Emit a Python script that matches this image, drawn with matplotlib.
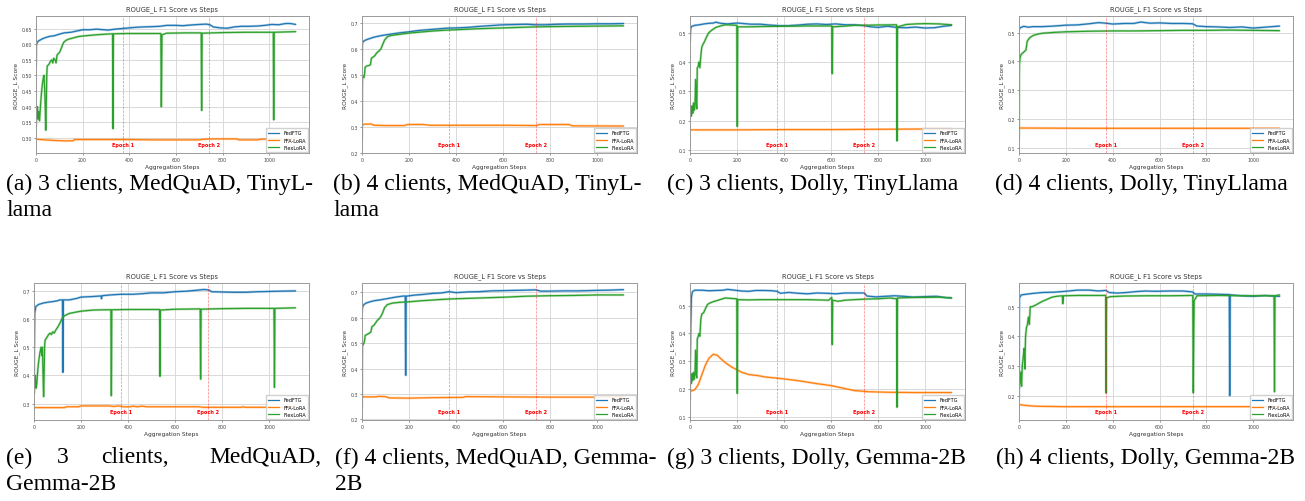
import numpy as np
import matplotlib
matplotlib.use("Agg")
import matplotlib.pyplot as plt
import matplotlib.transforms as mtransforms

# figure size in pixels
W, H = 1305, 502

# epoch boundaries (aggregation steps)
EPOCH_STEPS = [371, 742]
SERIES_NAMES = ["FedFTG", "FFA-LoRA", "FlexLoRA"]
SERIES_COLORS = ["#1f77b4", "#ff7f0e", "#2ca02c"]

# ---- (a) 3 clients, MedQuAD, TinyLlama ----
A_FEDFTG = [(0, 0.53), (2, 0.60), (5, 0.605), (10, 0.61), (20, 0.614), (30, 0.618), (45, 0.622),
            (60, 0.625), (80, 0.627), (100, 0.632), (120, 0.636), (150, 0.638), (175, 0.642),
            (200, 0.646), (230, 0.646), (260, 0.648), (290, 0.646), (310, 0.645), (340, 0.648),
            (370, 0.650), (400, 0.652), (430, 0.654), (460, 0.655), (500, 0.656), (530, 0.657),
            (560, 0.660), (600, 0.660), (630, 0.659), (660, 0.661), (700, 0.663), (730, 0.664),
            (745, 0.662), (760, 0.655), (790, 0.652), (820, 0.651), (850, 0.655), (880, 0.657),
            (910, 0.657), (950, 0.658), (980, 0.660), (1010, 0.663), (1040, 0.662), (1070, 0.666),
            (1090, 0.666), (1113, 0.663)]
A_FFA = [(0, 0.296), (40, 0.294), (80, 0.292), (120, 0.291), (158, 0.291), (165, 0.295), (300, 0.295),
         (400, 0.295), (500, 0.294), (600, 0.294), (700, 0.294), (720, 0.296), (760, 0.297),
         (860, 0.297), (870, 0.294), (950, 0.294), (965, 0.296), (1113, 0.297)]
A_FLEX = [(0, 0.335), (3, 0.37), (6, 0.40), (9, 0.36), (12, 0.385), (15, 0.355), (19, 0.40), (23, 0.44),
          (27, 0.47), (31, 0.49), (34, 0.50), (37, 0.46), (40, 0.39), (42, 0.325), (44, 0.40), (46, 0.50),
          (48, 0.53), (55, 0.535), (62, 0.545), (68, 0.55), (72, 0.54), (76, 0.555), (82, 0.55),
          (86, 0.54), (90, 0.565), (96, 0.57), (102, 0.575), (110, 0.59), (118, 0.605), (128, 0.612),
          (140, 0.616), (160, 0.62), (180, 0.624), (200, 0.626), (230, 0.628), (260, 0.63),
          (300, 0.632), (328, 0.633), (330, 0.33), (332, 0.633), (380, 0.634), (450, 0.634),
          (535, 0.634), (537, 0.40), (540, 0.63), (560, 0.635), (640, 0.636), (708, 0.636),
          (710, 0.388), (712, 0.635), (800, 0.637), (900, 0.638), (1017, 0.638), (1019, 0.358),
          (1021, 0.638), (1113, 0.64)]

# ---- (b) 4 clients, MedQuAD, TinyLlama ----
B_FEDFTG = [(0, 0.55), (2, 0.625), (6, 0.63), (15, 0.635), (30, 0.64), (50, 0.646), (75, 0.651),
            (100, 0.655), (130, 0.659), (160, 0.663), (200, 0.667), (240, 0.672), (280, 0.675),
            (320, 0.678), (360, 0.681), (400, 0.682), (450, 0.684), (500, 0.688), (550, 0.691),
            (600, 0.694), (650, 0.695), (700, 0.696), (740, 0.694), (780, 0.694), (830, 0.696),
            (880, 0.697), (940, 0.697), (1000, 0.698), (1060, 0.698), (1113, 0.699)]
B_FFA = [(0, 0.308), (10, 0.31), (40, 0.311), (50, 0.306), (100, 0.305), (180, 0.305), (195, 0.309),
         (260, 0.309), (290, 0.306), (400, 0.306), (600, 0.306), (740, 0.305), (755, 0.309),
         (880, 0.309), (895, 0.304), (1113, 0.303)]
B_FLEX = [(0, 0.245), (2, 0.49), (5, 0.495), (8, 0.49), (11, 0.505), (13, 0.53), (20, 0.535),
          (30, 0.537), (36, 0.54), (40, 0.565), (48, 0.57), (55, 0.575), (62, 0.585), (72, 0.593),
          (80, 0.60), (88, 0.618), (96, 0.635), (108, 0.648), (125, 0.653), (150, 0.656),
          (200, 0.662), (250, 0.666), (300, 0.670), (350, 0.673), (400, 0.675), (450, 0.677),
          (500, 0.679), (600, 0.682), (700, 0.685), (800, 0.687), (900, 0.688), (1000, 0.689),
          (1113, 0.69)]

# ---- (c) 3 clients, Dolly, TinyLlama ----
C_FEDFTG = [(0, 0.47), (3, 0.515), (8, 0.522), (20, 0.525), (40, 0.527), (60, 0.53), (80, 0.532),
            (100, 0.533), (110, 0.536), (130, 0.532), (160, 0.530), (200, 0.533), (230, 0.531),
            (260, 0.529), (300, 0.529), (340, 0.526), (380, 0.524), (420, 0.524), (460, 0.526),
            (500, 0.529), (540, 0.530), (580, 0.528), (620, 0.530), (660, 0.527), (700, 0.527),
            (740, 0.524), (770, 0.52), (800, 0.518), (840, 0.522), (880, 0.518), (920, 0.517),
            (960, 0.519), (1000, 0.516), (1040, 0.517), (1080, 0.522), (1113, 0.525)]
C_FFA = [(0, 0.168), (200, 0.168), (400, 0.169), (600, 0.169), (800, 0.17), (1000, 0.171), (1113, 0.171)]
C_FLEX = [(0, 0.22), (3, 0.24), (6, 0.215), (9, 0.25), (12, 0.225), (15, 0.26), (18, 0.235), (21, 0.245),
          (24, 0.34), (27, 0.26), (29, 0.24), (31, 0.38), (35, 0.385), (38, 0.40), (42, 0.38),
          (46, 0.42), (50, 0.45), (55, 0.46), (62, 0.47), (70, 0.485), (80, 0.50), (95, 0.51),
          (110, 0.518), (130, 0.523), (150, 0.527), (180, 0.526), (199, 0.525), (201, 0.18),
          (203, 0.52), (250, 0.52), (300, 0.521), (400, 0.522), (500, 0.523), (603, 0.523),
          (605, 0.36), (607, 0.52), (650, 0.522), (700, 0.525), (780, 0.526), (879, 0.527),
          (881, 0.13), (883, 0.52), (920, 0.528), (960, 0.53), (1000, 0.531), (1060, 0.53),
          (1113, 0.527)]

# ---- (d) 4 clients, Dolly, TinyLlama ----
D_FEDFTG = [(0, 0.51), (5, 0.517), (20, 0.522), (40, 0.519), (60, 0.521), (100, 0.521), (150, 0.523),
            (200, 0.526), (250, 0.527), (300, 0.531), (340, 0.535), (370, 0.533), (400, 0.530),
            (450, 0.532), (490, 0.532), (520, 0.537), (560, 0.533), (600, 0.534), (650, 0.532),
            (700, 0.532), (740, 0.531), (760, 0.523), (800, 0.521), (850, 0.52), (900, 0.518),
            (950, 0.52), (1000, 0.516), (1050, 0.519), (1113, 0.523)]
D_FFA = [(0, 0.168), (300, 0.167), (600, 0.167), (900, 0.167), (1113, 0.167)]
D_FLEX = [(0, 0.125), (2, 0.39), (5, 0.415), (10, 0.425), (20, 0.432), (30, 0.44), (35, 0.47),
          (45, 0.482), (60, 0.49), (80, 0.495), (100, 0.498), (150, 0.501), (200, 0.503),
          (300, 0.505), (400, 0.506), (500, 0.506), (600, 0.507), (700, 0.508), (800, 0.508),
          (900, 0.509), (1000, 0.508), (1113, 0.507)]

# ---- (e) 3 clients, MedQuAD, Gemma-2B ----
E_FEDFTG = [(0, 0.335), (3, 0.62), (8, 0.645), (20, 0.652), (40, 0.657), (60, 0.66), (80, 0.662),
            (100, 0.665), (110, 0.668), (121, 0.668), (123, 0.411), (125, 0.668), (150, 0.668),
            (180, 0.673), (200, 0.678), (250, 0.68), (285, 0.682), (287, 0.672), (290, 0.683),
            (330, 0.686), (370, 0.688), (420, 0.688), (460, 0.69), (500, 0.693), (550, 0.693),
            (600, 0.697), (650, 0.699), (700, 0.703), (725, 0.705), (745, 0.703), (755, 0.697),
            (800, 0.696), (850, 0.695), (900, 0.695), (950, 0.697), (1000, 0.698), (1050, 0.699),
            (1113, 0.7)]
E_FFA = [(0, 0.286), (130, 0.286), (140, 0.289), (190, 0.289), (200, 0.292), (320, 0.292), (340, 0.29),
         (360, 0.292), (380, 0.289), (410, 0.289), (420, 0.291), (440, 0.289), (460, 0.291),
         (480, 0.289), (700, 0.289), (720, 0.287), (880, 0.287), (890, 0.289), (900, 0.287),
         (1113, 0.287)]
E_FLEX = [(0, 0.335), (3, 0.36), (6, 0.40), (9, 0.355), (12, 0.37), (16, 0.42), (20, 0.45), (25, 0.48),
          (30, 0.50), (33, 0.47), (36, 0.50), (38, 0.42), (41, 0.325), (43, 0.40), (45, 0.50),
          (47, 0.525), (55, 0.535), (62, 0.545), (68, 0.55), (74, 0.545), (80, 0.555), (86, 0.55),
          (92, 0.56), (100, 0.57), (110, 0.585), (120, 0.603), (130, 0.612), (150, 0.62),
          (180, 0.625), (200, 0.628), (250, 0.632), (300, 0.633), (327, 0.633), (329, 0.328),
          (331, 0.633), (400, 0.634), (534, 0.634), (536, 0.397), (538, 0.632), (600, 0.635),
          (707, 0.636), (709, 0.387), (711, 0.635), (800, 0.637), (900, 0.638), (1021, 0.638),
          (1023, 0.358), (1025, 0.638), (1113, 0.64)]

# ---- (f) 4 clients, MedQuAD, Gemma-2B ----
F_FEDFTG = [(0, 0.62), (2, 0.64), (6, 0.65), (15, 0.657), (30, 0.662), (50, 0.667), (80, 0.671),
            (110, 0.676), (140, 0.681), (170, 0.685), (184, 0.686), (186, 0.374), (188, 0.685),
            (220, 0.689), (260, 0.692), (300, 0.696), (340, 0.698), (370, 0.703), (400, 0.699),
            (450, 0.702), (500, 0.703), (550, 0.706), (600, 0.707), (650, 0.708), (700, 0.709),
            (740, 0.71), (760, 0.705), (800, 0.705), (860, 0.706), (920, 0.706), (1000, 0.708),
            (1060, 0.709), (1113, 0.711)]
F_FFA = [(0, 0.289), (60, 0.289), (70, 0.291), (100, 0.29), (115, 0.285), (200, 0.284), (300, 0.286),
         (430, 0.287), (440, 0.29), (600, 0.289), (800, 0.288), (1000, 0.288), (1113, 0.288)]
F_FLEX = [(0, 0.245), (2, 0.49), (5, 0.495), (8, 0.50), (11, 0.51), (13, 0.53), (22, 0.535), (32, 0.54),
          (38, 0.545), (42, 0.565), (50, 0.57), (58, 0.58), (65, 0.59), (72, 0.595), (80, 0.605),
          (88, 0.62), (96, 0.64), (108, 0.652), (130, 0.658), (160, 0.661), (200, 0.663),
          (250, 0.667), (300, 0.670), (350, 0.673), (400, 0.675), (500, 0.678), (600, 0.681),
          (700, 0.685), (800, 0.687), (900, 0.688), (1000, 0.69), (1113, 0.69)]

# ---- (g) 3 clients, Dolly, Gemma-2B ----
G_FEDFTG = [(0, 0.16), (3, 0.42), (6, 0.53), (10, 0.55), (20, 0.556), (50, 0.556), (80, 0.554),
            (110, 0.555), (140, 0.556), (160, 0.559), (190, 0.556), (220, 0.553), (250, 0.552),
            (280, 0.555), (320, 0.555), (350, 0.554), (370, 0.552), (385, 0.545), (420, 0.548),
            (460, 0.545), (500, 0.543), (540, 0.546), (580, 0.545), (620, 0.543), (660, 0.546),
            (700, 0.546), (742, 0.546), (752, 0.535), (790, 0.532), (830, 0.534), (870, 0.536),
            (910, 0.534), (950, 0.531), (1000, 0.533), (1050, 0.534), (1080, 0.53), (1113, 0.528)]
G_FFA = [(0, 0.191), (20, 0.197), (35, 0.215), (50, 0.25), (65, 0.285), (80, 0.31), (99, 0.325),
         (115, 0.322), (130, 0.31), (150, 0.295), (175, 0.28), (198, 0.27), (220, 0.26), (250, 0.252),
         (290, 0.248), (320, 0.243), (370, 0.239), (410, 0.235), (450, 0.231), (488, 0.226),
         (540, 0.219), (601, 0.212), (650, 0.203), (700, 0.194), (760, 0.19), (842, 0.188),
         (950, 0.187), (1113, 0.187)]
G_FLEX = [(0, 0.23), (3, 0.25), (6, 0.22), (9, 0.255), (12, 0.23), (15, 0.26), (18, 0.235), (21, 0.25),
          (24, 0.34), (27, 0.25), (29, 0.24), (31, 0.38), (35, 0.39), (38, 0.40), (42, 0.39),
          (46, 0.45), (50, 0.47), (58, 0.475), (66, 0.49), (75, 0.505), (85, 0.51), (100, 0.515),
          (120, 0.52), (150, 0.528), (180, 0.526), (199, 0.525), (201, 0.184), (203, 0.522),
          (250, 0.521), (300, 0.522), (400, 0.522), (500, 0.522), (590, 0.52), (600, 0.528),
          (603, 0.53), (605, 0.36), (607, 0.52), (630, 0.516), (660, 0.52), (700, 0.522),
          (750, 0.524), (800, 0.525), (850, 0.528), (879, 0.525), (881, 0.134), (883, 0.528),
          (950, 0.53), (1000, 0.53), (1060, 0.531), (1113, 0.528)]

# ---- (h) 4 clients, Dolly, Gemma-2B ----
H_FEDFTG = [(0, 0.19), (2, 0.53), (10, 0.54), (30, 0.542), (60, 0.545), (100, 0.548), (150, 0.549),
            (200, 0.552), (250, 0.556), (300, 0.556), (340, 0.553), (370, 0.555), (385, 0.548),
            (420, 0.546), (460, 0.548), (500, 0.551), (540, 0.553), (580, 0.552), (640, 0.553),
            (700, 0.553), (740, 0.55), (752, 0.543), (800, 0.543), (850, 0.542), (898, 0.541),
            (900, 0.20), (902, 0.54), (950, 0.537), (1000, 0.535), (1050, 0.538), (1080, 0.536),
            (1113, 0.535)]
H_FFA = [(0, 0.17), (30, 0.167), (60, 0.165), (100, 0.164), (200, 0.163), (400, 0.163), (700, 0.163),
         (1113, 0.163)]
H_FLEX = [(0, 0.222), (4, 0.24), (8, 0.28), (11, 0.232), (14, 0.30), (18, 0.33), (22, 0.36), (25, 0.29),
          (28, 0.40), (32, 0.43), (36, 0.44), (40, 0.465), (44, 0.44), (48, 0.50), (55, 0.50),
          (70, 0.505), (85, 0.512), (100, 0.518), (120, 0.525), (140, 0.532), (160, 0.535),
          (185, 0.537), (187, 0.51), (190, 0.537), (250, 0.538), (300, 0.538), (370, 0.538),
          (372, 0.209), (374, 0.53), (390, 0.534), (450, 0.536), (550, 0.537), (650, 0.537),
          (742, 0.538), (744, 0.21), (746, 0.39), (748, 0.52), (760, 0.537), (850, 0.538),
          (950, 0.537), (1050, 0.537), (1089, 0.537), (1091, 0.213), (1093, 0.537), (1113, 0.54)]

PANEL_SERIES = [
    (A_FEDFTG, A_FFA, A_FLEX), (B_FEDFTG, B_FFA, B_FLEX),
    (C_FEDFTG, C_FFA, C_FLEX), (D_FEDFTG, D_FFA, D_FLEX),
    (E_FEDFTG, E_FFA, E_FLEX), (F_FEDFTG, F_FFA, F_FLEX),
    (G_FEDFTG, G_FFA, G_FLEX), (H_FEDFTG, H_FFA, H_FLEX),
]
PANEL_YLIM = [(0.252, 0.69), (0.199, 0.728), (0.089, 0.557), (0.081, 0.558),
              (0.242, 0.728), (0.198, 0.737), (0.088, 0.582), (0.118, 0.58)]

# captions: list of (text lines)
CAPTIONS = [
    ["(a) 3 clients, MedQuAD, TinyL-", "lama"],
    ["(b) 4 clients, MedQuAD, TinyL-", "lama"],
    ["(c) 3 clients, Dolly, TinyLlama"],
    ["(d) 4 clients, Dolly, TinyLlama"],
    ["(e) 3 clients, MedQuAD,", "Gemma-2B"],
    ["(f) 4 clients, MedQuAD, Gemma-", "2B"],
    ["(g) 3 clients, Dolly, Gemma-2B"],
    ["(h) 4 clients, Dolly, Gemma-2B"],
]

# axes boxes in pixels (left, top, right, bottom)
AX_BOXES = [(36, 17, 309, 154), (362, 17, 637, 154), (690, 17, 965, 154), (1019, 17, 1293, 154),
            (34, 284, 309, 421), (362, 284, 637, 421), (690, 284, 965, 421), (1019, 284, 1293, 421)]


def px_rect(x0, y0, x1, y1):
    return [x0 / W, 1 - y1 / H, (x1 - x0) / W, (y1 - y0) / H]


fig = plt.figure(figsize=(W / 100, H / 100), dpi=100)

for i, box in enumerate(AX_BOXES):
    ax = fig.add_axes(px_rect(*box))
    for series, name, color in zip(PANEL_SERIES[i], SERIES_NAMES, SERIES_COLORS):
        xs, ys = zip(*series)
        # light wide underlay (raw curve look) and the solid line on top
        ax.plot(xs, ys, color=color, lw=1.8, alpha=0.3, solid_capstyle="butt")
        ax.plot(xs, ys, color=color, lw=0.9, label=name)

    ax.set_xlim(0, 1170)
    ax.set_ylim(*PANEL_YLIM[i])
    ax.grid(True, color="#d9d9d9", lw=0.7)
    ax.set_axisbelow(True)
    for sp in ax.spines.values():
        sp.set_color("#999999")
        sp.set_linewidth(0.7)
    ax.tick_params(labelsize=3.4, length=1.5, width=0.4, pad=1.5, colors="#444444")

    trans = mtransforms.blended_transform_factory(ax.transData, ax.transAxes)
    for k, ep in enumerate(EPOCH_STEPS):
        ax.axvline(ep, color="red", ls="--", lw=0.5, alpha=0.5)
        ax.text(ep, 0.065, "Epoch %d" % (k + 1), transform=trans, color="red",
                fontsize=3.6, fontweight="bold", ha="center", va="center")

    ax.set_title("ROUGE_L F1 Score vs Steps", fontsize=4.8, pad=4, color="#333333")
    ax.set_xlabel("Aggregation Steps", fontsize=4.2, labelpad=1, color="#333333")
    ax.set_ylabel("ROUGE_L Score", fontsize=4.2, labelpad=2, color="#333333")
    ax.legend(loc="lower right", fontsize=3.6, frameon=True, borderaxespad=0.15,
              handlelength=2.2, labelspacing=0.45, borderpad=0.45, fancybox=False,
              edgecolor="#cccccc", framealpha=0.9)

# captions
serif = "Liberation Serif"
cap_size = 17
cap_x = [6, 333, 667, 995, 6, 335, 667, 996]
cap_y = [[184, 211], [184, 211], [184], [184], [458, 485], [458, 485], [458], [458]]
for i, lines in enumerate(CAPTIONS):
    for j, line in enumerate(lines):
        if i == 4 and j == 0:
            # justified first line of caption (e)
            for word, wx, ha in [("(e)", 6, "left"), ("3", 57, "left"),
                                 ("clients,", 101, "left"), ("MedQuAD,", 321, "right")]:
                fig.text(wx / W, 1 - cap_y[i][j] / H, word, fontsize=cap_size,
                         family=serif, ha=ha, va="center")
            continue
        fig.text(cap_x[i] / W, 1 - cap_y[i][j] / H, line, fontsize=cap_size,
                 family=serif, ha="left", va="center")

fig.savefig("out.png", dpi=100)
